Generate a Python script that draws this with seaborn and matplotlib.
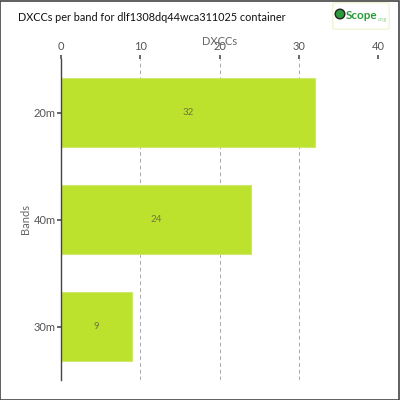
import matplotlib
matplotlib.use("Agg")
import matplotlib.pyplot as plt
import seaborn as sns
import pandas as pd
from matplotlib.patches import Rectangle, FancyBboxPatch, Circle

# data
bands = ["20m", "40m", "30m"]
dxccs = [32, 24, 9]
x_ticks = [0, 10, 20, 30, 40]

df = pd.DataFrame({"Bands": bands, "DXCCs": dxccs})

sns.set_theme(style="white")
plt.rcParams['font.family'] = ['Lato', 'DejaVu Sans']

fig = plt.figure(figsize=(4, 4), dpi=100)
ax = fig.add_axes([0.1525, 0.05, 0.7925, 0.8025])

sns.barplot(data=df, x="DXCCs", y="Bands", color="#bde22e", width=0.64,
            saturation=1, ax=ax, edgecolor="#cde86a", linewidth=0.8)

for i, v in enumerate(dxccs):
    ax.text(v / 2, i, str(v), ha="center", va="center", fontsize=7, color="#6a7a3a")

ax.set_xlim(0, 40)
ax.set_xticks(x_ticks)
ax.xaxis.tick_top()
ax.xaxis.set_label_position("top")
ax.tick_params(axis="x", top=True, length=3, color="#555555", labelsize=8,
               labelcolor="#555555", pad=2)
ax.tick_params(axis="y", left=True, length=3, color="#555555", labelsize=8,
               labelcolor="#555555", pad=1)
ax.set_xlabel("DXCCs", fontsize=8, color="#666666", labelpad=-3)
ax.set_ylabel("Bands", fontsize=8, color="#666666", labelpad=2)
ax.grid(axis="x", linestyle=(0, (4, 3)), color="#aaaaaa", linewidth=0.7)
ax.set_axisbelow(True)
for s in ["top", "right", "bottom"]:
    ax.spines[s].set_visible(False)
ax.spines["left"].set_color("#444444")
ax.spines["left"].set_linewidth(1)

fig.text(0.045, 0.957, "DXCCs per band for dlf1308dq44wca311025 container",
         fontsize=7.8, color="#111111", va="center", ha="left")

# logo
fig.patches.append(FancyBboxPatch((0.835, 0.93), 0.135, 0.06, transform=fig.transFigure,
                                  boxstyle="round,pad=0.003", fc="white", ec="#eef2c8", lw=0.8))
fig.patches.append(Circle((0.85, 0.965), 0.012, transform=fig.transFigure,
                          fc="#2a9a3a", ec="#222222", lw=1))
fig.text(0.864, 0.962, "Scope", fontsize=8.5, color="#2a9a3a", fontweight="bold",
         va="center", ha="left")
fig.text(0.943, 0.952, ".org", fontsize=4, color="#88cc88", va="center", ha="left")

fig.patches.append(Rectangle((0.001, 0.001), 0.997, 0.997, transform=fig.transFigure,
                             fill=False, ec="#444444", lw=1.2))

fig.savefig("out.png", dpi=100)
